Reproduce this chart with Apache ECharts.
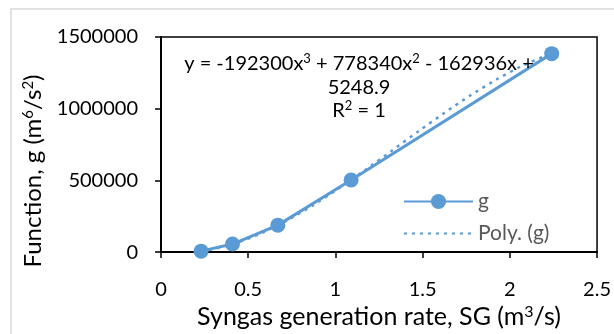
<!DOCTYPE html>
<html>
<head>
<meta charset="utf-8">
<script src="https://cdn.jsdelivr.net/npm/echarts@6/dist/echarts.min.js"></script>
<style>
  html, body { margin: 0; padding: 0; background: #fff; }
  #chart { width: 614px; height: 334px; }
</style>
</head>
<body>
<div id="chart"></div>
<script>
// measured points (SG, g)
const sgValues = [0.23, 0.41, 0.67, 1.09, 2.24];
const gValues = [6600, 56000, 188000, 503000, 1384000];

// trendline coefficients shown on the chart: c3, c2, c1, c0
const polyCoef = [-192300, 778340, -162936, 5248.9];
const trendX = [0.23, 0.35, 0.5, 0.65, 0.8, 0.95, 1.1, 1.25, 1.4, 1.55, 1.7, 1.85, 2.0, 2.12, 2.24];

const yTicks = [0, 500000, 1000000, 1500000];
const xTicks = [0, 0.5, 1, 1.5, 2, 2.5];

const FONT = 'Lato, "Open Sans", sans-serif';
const BLUE = '#5B9BD5';

function polyAt(x) {
    return ((polyCoef[0] * x + polyCoef[1]) * x + polyCoef[2]) * x + polyCoef[3];
}

const trendData = trendX.map(x => [x, polyAt(x)]);
const pointData = sgValues.map((x, i) => [x, gValues[i]]);

// superscript rich style, reused by the titles and the equation
function supRich(size, base) {
    return {
        n: { fontSize: base, fontFamily: FONT, color: '#000' },
        s: { fontSize: size, fontFamily: FONT, color: '#000', verticalAlign: 'top' }
    };
}

const chart = echarts.init(document.getElementById('chart'));

chart.setOption({
    animation: false,
    textStyle: { fontFamily: FONT },
    grid: {
        left: 161, right: 9, top: 37, bottom: 77,
        show: true, borderColor: '#000', borderWidth: 1.5
    },
    legend: {
        orient: 'vertical',
        left: 398, top: 186,
        itemWidth: 69, itemHeight: 19, itemGap: 11,
        textStyle: { color: '#595959', fontSize: 21, fontFamily: FONT },
        data: [
            { name: 'g' },
            { name: 'Poly. (g)', itemStyle: { opacity: 0 } }
        ]
    },
    xAxis: {
        type: 'value',
        min: 0, max: 2.5, interval: 0.5,
        name: '{n|Syngas generation rate, SG (m}{s|3}{n|/s)}',
        nameLocation: 'middle', nameGap: 47,
        nameTextStyle: { color: '#000', fontSize: 25, fontFamily: FONT, rich: supRich(16, 25) },
        axisLine: { lineStyle: { color: '#000', width: 2 } },
        axisTick: { show: true, inside: false, length: 6, lineStyle: { color: '#000', width: 1.5 } },
        axisLabel: { color: '#000', fontSize: 20, margin: 27, formatter: v => String(v) },
        splitLine: { show: false }
    },
    yAxis: {
        type: 'value',
        min: 0, max: 1500000, interval: 500000,
        axisLine: { show: true, lineStyle: { color: '#000', width: 2 } },
        axisTick: { show: true, inside: false, length: 6, lineStyle: { color: '#000', width: 1.5 } },
        axisLabel: { color: '#000', fontSize: 20, margin: 23, formatter: v => String(v) },
        splitLine: { show: false }
    },
    series: [
        {
            name: 'g',
            type: 'line',
            data: pointData,
            symbol: 'circle',
            symbolSize: 15,
            itemStyle: { color: BLUE },
            lineStyle: { color: BLUE, width: 3 },
            z: 3
        },
        {
            name: 'Poly. (g)',
            type: 'line',
            data: trendData,
            smooth: true,
            showSymbol: false,
            symbol: 'none',
            itemStyle: { color: BLUE },
            lineStyle: { color: BLUE, width: 2.5, type: [3, 5] },
            z: 2
        }
    ],
    graphic: [
        {
            type: 'rect',
            shape: { x: 11, y: 9, width: 620, height: 340 },
            style: { fill: 'none', stroke: '#d9d9d9', lineWidth: 1.5 },
            silent: true, z: -1
        },
        {
            type: 'text',
            x: 33, y: 171,
            rotation: Math.PI / 2,
            style: {
                text: '{n|Function, g (m}{s|6}{n|/s}{s|2}{n|)}',
                align: 'center', verticalAlign: 'middle',
                rich: supRich(15, 24)
            },
            z: 10
        },
        {
            type: 'text',
            x: 359, y: 52,
            style: {
                text: '{n|y = -192300x}{s|3}{n| + 778340x}{s|2}{n| - 162936x +}\n{n|5248.9}\n{n|R}{s|2}{n| = 1}',
                align: 'center', verticalAlign: 'top',
                lineHeight: 23.5,
                rich: supRich(13, 20)
            },
            z: 10
        }
    ]
});
</script>
</body>
</html>
